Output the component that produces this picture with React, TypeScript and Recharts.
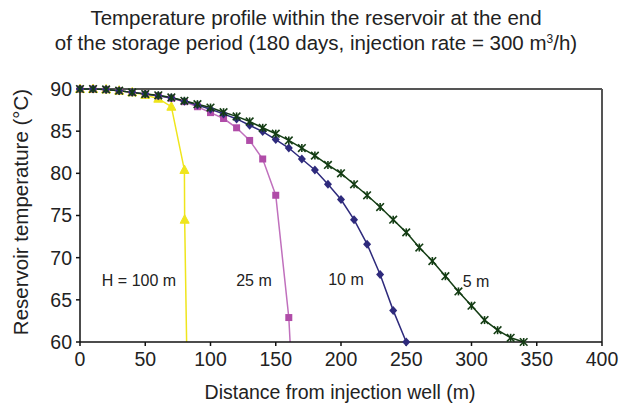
import React from "react";
import { LineChart, Line, XAxis, YAxis, ReferenceLine } from "recharts";

const xTicks = [0, 50, 100, 150, 200, 250, 300, 350, 400];
const yTicks = [60, 65, 70, 75, 80, 85, 90];

const dist5 = [0, 10, 20, 30, 40, 50, 60, 70, 80, 90, 100, 110, 120, 130, 140, 150, 160, 170, 180, 190, 200, 210, 220, 230, 240, 250, 260, 270, 280, 290, 300, 310, 320, 330, 340];
const temp5 = [90, 90, 89.95, 89.8, 89.6, 89.4, 89.25, 89.0, 88.6, 88.2, 87.8, 87.25, 86.75, 86.15, 85.4, 84.7, 83.9, 83.0, 82.1, 81.0, 80.0, 78.7, 77.4, 76.0, 74.5, 73.0, 71.2, 69.6, 67.8, 66.0, 64.3, 62.6, 61.4, 60.5, 60.0];

const dist10 = [0, 10, 20, 30, 40, 50, 60, 70, 80, 90, 100, 110, 120, 130, 140, 150, 160, 170, 180, 190, 200, 210, 220, 230, 240, 250];
const temp10 = [90, 90, 89.95, 89.8, 89.6, 89.4, 89.2, 88.95, 88.55, 88.1, 87.6, 87.05, 86.45, 85.7, 84.95, 84.0, 83.0, 81.7, 80.4, 78.7, 76.9, 74.5, 71.6, 68.0, 63.75, 60.0];

const dist25 = [0, 10, 20, 30, 40, 50, 60, 70, 80, 90, 100, 110, 120, 130, 140, 150, 160, 161];
const temp25 = [90, 90, 89.95, 89.8, 89.6, 89.4, 89.2, 88.9, 88.5, 87.9, 87.2, 86.5, 85.4, 83.9, 81.7, 77.4, 62.9, 60.0];

const dist100 = [0, 10, 20, 30, 40, 50, 60, 70, 80, 80.2, 81.7];
const temp100 = [90, 90, 89.95, 89.8, 89.6, 89.3, 88.85, 87.9, 80.4, 74.5, 60.0];

const seriesNames = ["H = 100 m", "25 m", "10 m", "5 m"];

const build = (xs: number[], ys: number[]) =>
  xs.map((x, i) => ({ x, y: ys[i], last: i === xs.length - 1 }));

const data5 = build(dist5, temp5);
const data10 = build(dist10, temp10);
const data25 = build(dist25, temp25);
const data100 = build(dist100, temp100);

const YELLOW = "#efe51c";
const MAGENTA = "#b04ca8";
const MAGENTA_LINE = "#c070bd";
const NAVY = "#2e2a7c";
const GREEN = "#143d14";

const triangleDot = (props: any) => {
  const { cx, cy, index, payload } = props;
  if (payload && payload.last) return <g key={`t${index}`} />;
  return (
    <path
      key={`t${index}`}
      d={`M${cx},${cy - 5} L${cx + 4.5},${cy + 3.5} L${cx - 4.5},${cy + 3.5} Z`}
      fill={YELLOW}
      stroke={YELLOW}
    />
  );
};

const squareDot = (props: any) => {
  const { cx, cy, index, payload } = props;
  if (payload && payload.last) return <g key={`s${index}`} />;
  return <rect key={`s${index}`} x={cx - 3.5} y={cy - 3.5} width={7} height={7} fill={MAGENTA} />;
};

const diamondDot = (props: any) => {
  const { cx, cy, index } = props;
  return (
    <path
      key={`d${index}`}
      d={`M${cx},${cy - 4.5} L${cx + 4},${cy} L${cx},${cy + 4.5} L${cx - 4},${cy} Z`}
      fill={NAVY}
    />
  );
};

const starDot = (props: any) => {
  const { cx, cy, index } = props;
  return (
    <g key={`x${index}`} stroke={GREEN} strokeWidth={1.6}>
      <line x1={cx - 3.8} y1={cy - 3.8} x2={cx + 3.8} y2={cy + 3.8} />
      <line x1={cx - 3.8} y1={cy + 3.8} x2={cx + 3.8} y2={cy - 3.8} />
      <line x1={cx} y1={cy - 4} x2={cx} y2={cy + 4} />
    </g>
  );
};

const font = "'Liberation Sans', Arial, Helvetica, sans-serif";

export default function App() {
  return (
    <div style={{ position: "absolute", left: 0, top: 0, width: 619, height: 408, background: "#fff", fontFamily: font, color: "#222" }}>
      <div style={{ position: "absolute", left: 0, top: 5, width: 632, textAlign: "center", fontSize: 20.5, lineHeight: "25px" }}>
        Temperature profile within the reservoir at the end
        <br />
        of the storage period (180 days, injection rate = 300 m<sup style={{ fontSize: 12, verticalAlign: "7px", lineHeight: 0 }}>3</sup>/h)
      </div>
      <LineChart
        width={619}
        height={408}
        margin={{ top: 89, right: 17, bottom: 36, left: 0 }}
        style={{ position: "absolute", left: 0, top: 0 }}
      >
        <XAxis
          type="number"
          dataKey="x"
          domain={[0, 400]}
          ticks={xTicks}
          height={30}
          tickSize={4}
          tickMargin={6}
          stroke="#111"
          strokeWidth={1.5}
          tick={{ fill: "#222", fontSize: 19.5, fontFamily: font }}
          allowDuplicatedCategory={false}
        />
        <YAxis
          type="number"
          domain={[60, 90]}
          ticks={yTicks}
          width={80}
          tickSize={4}
          tickMargin={4}
          stroke="#111"
          strokeWidth={1.5}
          tick={{ fill: "#222", fontSize: 19.5, fontFamily: font }}
        />
        <ReferenceLine y={90} stroke="#555" strokeWidth={2} />
        <ReferenceLine x={400} stroke="#555" strokeWidth={2} />
        <Line data={data100} dataKey="y" name={seriesNames[0]} stroke={YELLOW} strokeWidth={1.5} dot={triangleDot} isAnimationActive={false} />
        <Line data={data25} dataKey="y" name={seriesNames[1]} stroke={MAGENTA_LINE} strokeWidth={1.5} dot={squareDot} isAnimationActive={false} />
        <Line data={data10} dataKey="y" name={seriesNames[2]} stroke={NAVY} strokeWidth={1.5} dot={diamondDot} isAnimationActive={false} />
        <Line data={data5} dataKey="y" name={seriesNames[3]} stroke={GREEN} strokeWidth={1.5} dot={starDot} isAnimationActive={false} />
      </LineChart>
      <div style={{ position: "absolute", left: 21, top: 212, transform: "translate(-50%, -50%) rotate(-90deg)", whiteSpace: "nowrap", fontSize: 20.5 }}>
        Reservoir temperature (°C)
      </div>
      <div style={{ position: "absolute", left: 340, top: 392, transform: "translate(-50%, -50%)", whiteSpace: "nowrap", fontSize: 19.5 }}>
        Distance from injection well (m)
      </div>
      {[
        { t: seriesNames[0], x: 139, y: 281 },
        { t: seriesNames[1], x: 254, y: 281 },
        { t: seriesNames[2], x: 346, y: 280 },
        { t: seriesNames[3], x: 476, y: 282 },
      ].map((l) => (
        <div key={l.t} style={{ position: "absolute", left: l.x, top: l.y, transform: "translate(-50%, -50%)", whiteSpace: "nowrap", fontSize: 16 }}>
          {l.t}
        </div>
      ))}
    </div>
  );
}
